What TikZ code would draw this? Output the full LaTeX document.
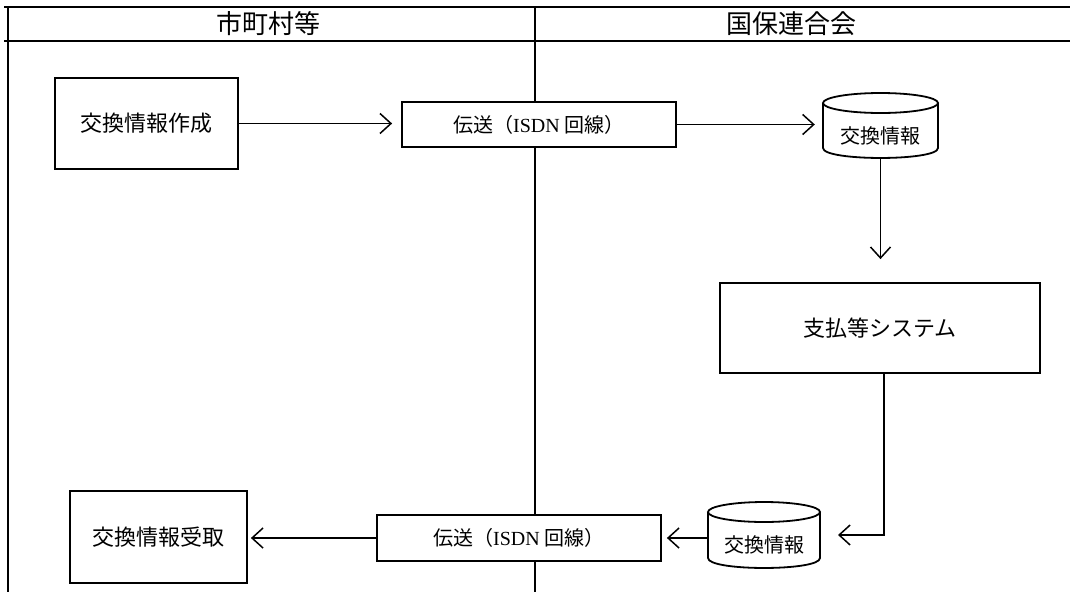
\documentclass[tikz,border=0pt]{standalone}
\usepackage{fontspec}
\setmainfont{Liberation Serif}
\newfontfamily\jp{Noto Sans CJK JP}
\usetikzlibrary{arrows.meta}
\begin{document}
\begin{tikzpicture}[x=1pt,y=-1pt,
  box/.style={draw,line width=1.8pt,fill=white,inner sep=0pt,font=\jp\fontsize{22}{24}\selectfont},
  tbox/.style={draw,line width=1.8pt,fill=white,inner sep=0pt,font=\fontsize{20}{22}\selectfont},
  dbtext/.style={inner sep=0pt,font=\jp\fontsize{20}{22}\selectfont},
  head/.style={inner sep=0pt,font=\jp\fontsize{26}{28}\selectfont},
  conn/.style={line width=1.5pt,-{Straight Barb[length=11pt,width=20pt,line width=1.5pt]}},
  frame/.style={line width=1.6pt},
  dbline/.style={line width=1.8pt,fill=white},
]
\useasboundingbox (0,0) rectangle (1070,592);
% frame
\draw[frame] (4,7) -- (1070,7);
\draw[frame] (4,41) -- (1070,41);
\draw[frame] (8,7) -- (8,592);
\draw[frame] (535,7) -- (535,592);
\node[head] (h1) at (268,24) {市町村等};
\node[head] (h2) at (791,24) {国保連合会};
% boxes
\node[box,minimum width=183pt,minimum height=91pt] (A) at (146.5,123.5) {交換情報作成};
\node[tbox,minimum width=274pt,minimum height=45pt] (B) at (539,124.5) {{\jp 伝送（}ISDN {\jp 回線）}};
\node[box,minimum width=320pt,minimum height=90pt] (C) at (880,328) {支払等システム};
\node[tbox,minimum width=284pt,minimum height=46pt] (D) at (519,538) {{\jp 伝送（}ISDN {\jp 回線）}};
\node[box,minimum width=177pt,minimum height=92pt] (E) at (158.5,537) {交換情報受取};
% cylinders
\draw[dbline] (823,103) -- (823,148) .. controls (823,161.3) and (938,161.3) .. (938,148) -- (938,103);
\draw[dbline] (880.5,103) ellipse [x radius=57.5pt, y radius=10pt];
\node[inner sep=0pt,minimum width=115pt,minimum height=55pt] (db1) at (880.5,130.5) {};
\node[dbtext] (t1) at (880.5,136) {交換情報};
\draw[dbline] (708,512) -- (708,558) .. controls (708,571.3) and (820,571.3) .. (820,558) -- (820,512);
\draw[dbline] (764,512) ellipse [x radius=56pt, y radius=10pt];
\node[inner sep=0pt,minimum width=112pt,minimum height=56pt] (db2) at (764,540) {};
\node[dbtext] (t2) at (764,545) {交換情報};
% connectors
\coordinate (tip) at (838,535);
\draw[conn,shorten >=9pt] (A.east) -- (A.east -| B.west);
\draw[conn,shorten >=8pt] (B.east) -- (B.east -| db1.west);
\draw[conn,shorten >=23pt] (db1.south) -- (db1.south |- C.north);
\draw[conn] ([xshift=4pt]C.south) |- (tip);
\draw[conn,shorten >=5pt] (db2.west |- D.east) -- (D.east);
\draw[conn,shorten >=3pt] (D.west) -- (D.west -| E.east);
\end{tikzpicture}
\end{document}
